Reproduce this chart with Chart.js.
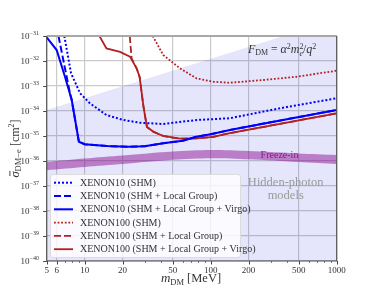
<!DOCTYPE html>
<html><head><meta charset="utf-8">
<script src="https://cdn.jsdelivr.net/npm/chart.js@4/dist/chart.umd.min.js"></script>
<style>html,body{margin:0;padding:0;background:#fff;}#wrap{width:374px;height:299px;}</style>
</head><body><div id="wrap"><canvas id="c" width="374" height="299"></canvas></div>
<script>
// ---------- data (mass in MeV, cross-section in cm^2) ----------
const massMajorTicks = [5, 6, 10, 20, 50, 100, 200, 500, 1000];
const massMinorTicks = [7, 8, 9, 30, 40, 60, 70, 80, 90, 300, 400, 600, 700, 800, 900];
const sigmaTickExponents = [-40, -39, -38, -37, -36, -35, -34, -33, -32, -31];

const hiddenPhotonMass = [5, 1000];
const hiddenPhotonSigma = [1.1e-34, 4.6e-31];

const freezeInMass = [5, 10, 20, 50, 100, 200, 500, 1000];
const freezeInUpper = [9.3e-37, 1.26e-36, 1.66e-36, 2.4e-36, 2.75e-36, 2.5e-36, 2.0e-36, 1.74e-36];
const freezeInLower = [4.3e-37, 5.8e-37, 7.6e-37, 1.12e-36, 1.29e-36, 1.17e-36, 9.1e-37, 7.6e-37];

const x10ShmMass  = [6.9, 7.8, 9.2, 11, 14.9, 20.3, 27.5, 42, 77.5, 142, 356, 1000];
const x10ShmSigma = [1e-31, 3.24e-33, 5.13e-34, 2.04e-34, 6.9e-35, 4.37e-35, 3.39e-35, 3.02e-35, 4.37e-35, 5.13e-35, 1.29e-34, 3.24e-34];

const x10LgMass  = [6.2, 7.2, 7.65, 7.9, 9.0, 10, 15, 22, 30, 42, 60, 77, 100, 142, 300, 1000];
const x10LgSigma = [1e-31, 2.34e-33, 5.1e-34, 2.75e-34, 5.89e-36, 4.68e-36, 3.98e-36, 3.72e-36, 3.89e-36, 5.13e-36, 6.46e-36, 9.33e-36, 1.17e-35, 1.74e-35, 3.55e-35, 1.1e-34];

const x10VirgoMass  = [5, 6.0, 7.0, 7.9, 9.0, 10, 15, 22, 30, 42, 60, 77, 100, 142, 300, 1000];
const x10VirgoSigma = [8.9e-32, 2.75e-32, 2.24e-33, 2.75e-34, 5.89e-36, 4.68e-36, 3.98e-36, 3.72e-36, 3.89e-36, 5.13e-36, 6.46e-36, 9.33e-36, 1.17e-35, 1.74e-35, 3.55e-35, 1.1e-34];

const x100ShmMass  = [34.7, 42, 57, 77.5, 105, 142, 263, 480, 1000];
const x100ShmSigma = [1e-31, 1.74e-32, 5.1e-33, 2.0e-33, 1.48e-33, 1.35e-33, 1.74e-33, 2.34e-33, 4.1e-33];

const x100LgMass  = [22.8, 23.6, 25.9, 27.3, 29.3, 31.2, 35, 42, 57, 77.5, 105, 142, 1000];
const x100LgSigma = [1e-31, 1.26e-32, 5.0e-33, 2.3e-33, 1.5e-34, 2.3e-35, 1.5e-35, 1.0e-35, 7.8e-36, 8.1e-36, 9.3e-36, 1.3e-35, 8.1e-35];

const x100VirgoMass  = [13.1, 14.9, 19.1, 22.9, 25.9, 27.3, 29.3, 31.2, 35, 42, 57, 77.5, 105, 142, 1000];
const x100VirgoSigma = [1e-31, 3.2e-32, 2.3e-32, 1.5e-32, 5.0e-33, 2.3e-33, 1.5e-34, 2.3e-35, 1.5e-35, 1.0e-35, 7.8e-36, 8.1e-36, 9.3e-36, 1.3e-35, 8.1e-35];

const seriesLabels = [
  'XENON10 (SHM)', 'XENON10 (SHM + Local Group)', 'XENON10 (SHM + Local Group + Virgo)',
  'XENON100 (SHM)', 'XENON100 (SHM + Local Group)', 'XENON100 (SHM + Local Group + Virgo)'
];

// ---------- build ----------
const pts = (xs, ys) => xs.map((x, i) => ({x: x, y: ys[i]}));
const BLUE = '#0000ff', RED = '#b22222';
const SERIF = '"Liberation Serif", "DejaVu Serif", serif';

function lineDs(label, xs, ys, color, dash, width) {
  return {label: label, data: pts(xs, ys), borderColor: color, borderWidth: width,
    borderDash: dash, borderCapStyle: 'butt', pointRadius: 0, fill: false, tension: 0,
    order: 1, inLegend: true, clip: false};
}

const datasets = [
  {label: 'hidden', data: pts(hiddenPhotonMass, hiddenPhotonSigma), borderWidth: 0,
   borderColor: 'rgba(0,0,0,0)', backgroundColor: 'rgba(40,40,230,0.12)', fill: 'start', pointRadius: 0, order: 100},
  {label: 'freezeUp', data: pts(freezeInMass, freezeInUpper), borderWidth: 0,
   borderColor: 'rgba(0,0,0,0)', backgroundColor: 'rgba(135,0,135,0.45)', fill: '+1', pointRadius: 0, tension: 0.3, order: 90},
  {label: 'freezeLo', data: pts(freezeInMass, freezeInLower), borderWidth: 0,
   borderColor: 'rgba(0,0,0,0)', fill: false, pointRadius: 0, tension: 0.3, order: 91},
  lineDs(seriesLabels[0], x10ShmMass, x10ShmSigma, BLUE, [2, 2], 2),
  lineDs(seriesLabels[1], x10LgMass, x10LgSigma, BLUE, [7, 3], 2),
  lineDs(seriesLabels[2], x10VirgoMass, x10VirgoSigma, BLUE, [], 2),
  lineDs(seriesLabels[3], x100ShmMass, x100ShmSigma, RED, [1.8, 1.8], 1.8),
  lineDs(seriesLabels[4], x100LgMass, x100LgSigma, RED, [7, 3], 1.8),
  lineDs(seriesLabels[5], x100VirgoMass, x100VirgoSigma, RED, [1000, 0], 1.8)
];

function drawSegs(ctx, x, y, segs, align) {
  let w = 0;
  segs.forEach(s => { ctx.font = s.f; s.w = ctx.measureText(s.t).width; if (!s.stack) w += s.w; });
  let cx = align === 'center' ? x - w / 2 : (align === 'right' ? x - w : x);
  let prevX = cx;
  segs.forEach(s => {
    ctx.font = s.f;
    const sx = s.stack ? prevX : cx;
    ctx.fillText(s.t, sx, y + (s.dy || 0));
    if (s.bar) {
      ctx.save(); ctx.lineWidth = 0.9; ctx.strokeStyle = ctx.fillStyle;
      ctx.beginPath(); ctx.moveTo(sx + 1.5, y - 8.6); ctx.lineTo(sx + s.w + 0.5, y - 8.6); ctx.stroke(); ctx.restore();
    }
    if (!s.stack) { prevX = cx; cx += s.w; }
  });
}

const deco = {
  id: 'deco',
  afterDraw(chart) {
    const ctx = chart.ctx, a = chart.chartArea, xs = chart.scales.x, ys = chart.scales.y;
    ctx.save();
    ctx.strokeStyle = '#444'; ctx.lineWidth = 1;
    massMajorTicks.forEach(m => { const p = Math.round(xs.getPixelForValue(m)) + 0.5;
      ctx.beginPath(); ctx.moveTo(p, a.bottom); ctx.lineTo(p, a.bottom + 3.5); ctx.stroke(); });
    ctx.lineWidth = 0.7;
    massMinorTicks.forEach(m => { const p = Math.round(xs.getPixelForValue(m)) + 0.5;
      ctx.beginPath(); ctx.moveTo(p, a.bottom); ctx.lineTo(p, a.bottom + 2); ctx.stroke(); });
    ctx.lineWidth = 1;
    sigmaTickExponents.forEach(e => { const p = Math.round(ys.getPixelForValue(Math.pow(10, e))) + 0.5;
      ctx.beginPath(); ctx.moveTo(a.left - 3.5, p); ctx.lineTo(a.left, p); ctx.stroke(); });
    ctx.strokeStyle = '#a8a8a8'; ctx.lineWidth = 2;
    ctx.beginPath(); ctx.moveTo(a.left, a.top); ctx.lineTo(a.right, a.top); ctx.stroke();
    ctx.strokeStyle = '#555'; ctx.lineWidth = 1.2;
    ctx.beginPath(); ctx.moveTo(a.left, a.top); ctx.lineTo(a.left, a.bottom); ctx.lineTo(a.right, a.bottom); ctx.lineTo(a.right, a.top); ctx.stroke();

    ctx.fillStyle = '#333'; ctx.textBaseline = 'alphabetic'; ctx.textAlign = 'left';
    sigmaTickExponents.forEach(e => {
      const p = ys.getPixelForValue(Math.pow(10, e));
      drawSegs(ctx, 39, p + 3.2, [{t: '10', f: '9px ' + SERIF}, {t: '\u2212' + Math.abs(e), f: '6px ' + SERIF, dy: -4}], 'right');
    });

    ctx.fillStyle = '#333';
    drawSegs(ctx, 191, 282, [{t: 'm', f: 'italic 13px ' + SERIF}, {t: 'DM', f: '8.5px ' + SERIF, dy: 2.5}, {t: ' [MeV]', f: '12.5px ' + SERIF}], 'center');

    ctx.save(); ctx.translate(18.5, (a.top + a.bottom) / 2); ctx.rotate(-Math.PI / 2);
    drawSegs(ctx, 0, 0, [{t: '\u03c3', f: 'italic 12.5px ' + SERIF, bar: true}, {t: 'DM\u2212e', f: '8.5px ' + SERIF, dy: 2.5},
      {t: ' [cm', f: '12px ' + SERIF}, {t: '2', f: '8px ' + SERIF, dy: -5}, {t: ']', f: '12px ' + SERIF}], 'center');
    ctx.restore();

    ctx.fillStyle = '#333';
    drawSegs(ctx, 248, 53, [
      {t: 'F', f: 'italic 12px ' + SERIF}, {t: 'DM', f: '8px ' + SERIF, dy: 2.2},
      {t: ' = ', f: '11.5px ' + SERIF}, {t: '\u03b1', f: 'italic 12px ' + SERIF}, {t: '2', f: '8px ' + SERIF, dy: -4.5},
      {t: 'm', f: 'italic 12px ' + SERIF}, {t: 'e', f: 'italic 8px ' + SERIF, dy: 2.5}, {t: '2', f: '8px ' + SERIF, dy: -4.5, stack: true},
      {t: '/', f: '11.5px ' + SERIF}, {t: 'q', f: 'italic 12px ' + SERIF}, {t: '2', f: '8px ' + SERIF, dy: -4.5}], 'left');

    ctx.fillStyle = '#8e1b8e'; ctx.font = '10px ' + SERIF; ctx.textAlign = 'center'; ctx.textBaseline = 'middle';
    ctx.fillText('Freeze-in', 279.5, 155.5);
    ctx.fillStyle = '#9a9a9a'; ctx.font = '12.5px ' + SERIF;
    ctx.fillText('Hidden-photon', 285.7, 182.5);
    ctx.fillText('models', 285.7, 196);

    ctx.textAlign = 'left';
    ctx.fillStyle = 'rgba(255,255,255,0.82)'; ctx.strokeStyle = '#dcdcdc'; ctx.lineWidth = 1;
    ctx.beginPath(); ctx.roundRect(50.5, 174.5, 190, 83, 2.5); ctx.fill(); ctx.stroke();
    let row = 0;
    chart.data.datasets.forEach(ds => {
      if (!ds.inLegend) return;
      const y = 182.7 + row * 13.3;
      ctx.save(); ctx.strokeStyle = ds.borderColor; ctx.lineWidth = ds.borderWidth; ctx.setLineDash(ds.borderDash);
      ctx.beginPath(); ctx.moveTo(54, y); ctx.lineTo(73, y); ctx.stroke(); ctx.restore();
      ctx.fillStyle = '#333'; ctx.font = '10px ' + SERIF; ctx.textBaseline = 'middle';
      ctx.fillText(ds.label, 80, y + 0.5);
      row++;
    });
    ctx.restore();
  }
};

new Chart(document.getElementById('c'), {
  type: 'line',
  data: {datasets: datasets},
  options: {
    responsive: false, animation: false, devicePixelRatio: 1,
    layout: {padding: {left: 0, right: 37.3, top: 36, bottom: 0}},
    plugins: {legend: {display: false}, tooltip: {enabled: false}},
    scales: {
      x: {
        type: 'logarithmic', min: 5, max: 1000,
        afterBuildTicks: s => { s.ticks = massMajorTicks.concat(massMinorTicks).sort((p, q) => p - q).map(v => ({value: v})); },
        afterFit: s => { s.height = 38; },
        ticks: {autoSkip: false, maxRotation: 0, padding: 4, color: '#333', font: {family: SERIF, size: 9},
          callback: v => massMajorTicks.includes(v) ? String(v) : ''},
        grid: {drawTicks: false, lineWidth: 1.2,
          color: c => (c.tick && massMajorTicks.includes(c.tick.value)) ? '#cacaca' : 'rgba(0,0,0,0)'},
        border: {display: false}
      },
      y: {
        type: 'logarithmic', min: 1e-40, max: 1e-31,
        afterBuildTicks: s => { s.ticks = sigmaTickExponents.map(e => ({value: Math.pow(10, e)})); },
        afterFit: s => { s.width = 46.7; },
        ticks: {callback: () => '', autoSkip: false},
        grid: {drawTicks: false, lineWidth: 1.2, color: '#cacaca'},
        border: {display: false}
      }
    }
  },
  plugins: [deco]
});
</script>
</body></html>
